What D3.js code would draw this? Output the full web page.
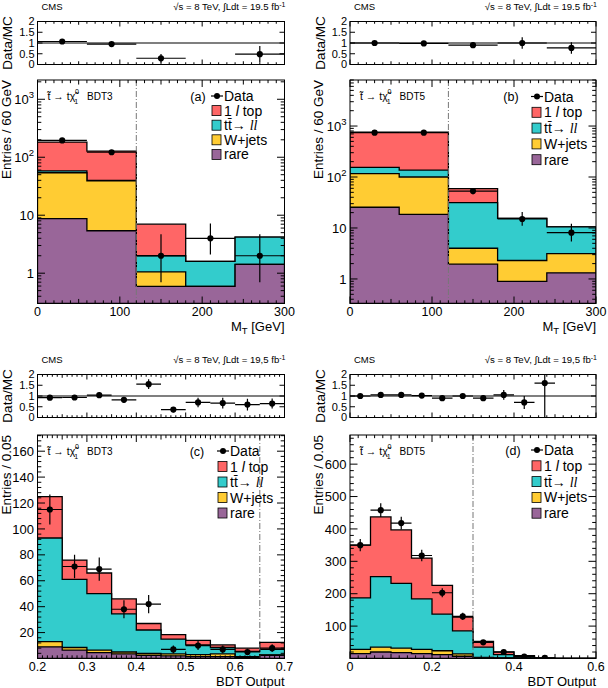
<!DOCTYPE html>
<html><head><meta charset="utf-8">
<script src="https://cdn.jsdelivr.net/npm/d3@7"></script>
<style>body{margin:0;background:#fff} text{font-family:"Liberation Sans",Arial,Helvetica,sans-serif;fill:#000}</style>
</head><body><svg id="chart" width="608" height="688"></svg>
<script>
// ---------------- DATA ----------------
const processNames = ["1 l top", "tt→ll", "W+jets", "rare"];
const ratioTicks = [0, 0.5, 1, 1.5, 2];

// Panel (a): MT, BDT3
const aEdges  = [0, 60, 120, 180, 240, 300];
const aRare   = [8.7, 5.4, 0.59, 0.59, 1.42];
const aWjets  = [45.3, 33.6, 0.46, 0, 0];
const aTtll   = [4, 1, 0.95, 1.01, 2.78];
const aTop1l  = [125, 88, 5, 0, 0];
const aData   = [195, 122, 2, 4, 2];
const aDataLo = [14, 11, 1.3, 1.9, 1.3];
const aDataHi = [14, 11, 2.7, 3.2, 2.7];
const aRatio    = [1.07, 0.95, 0.29, null, 0.48];
const aRatioErr = [0.06, 0.09, 0.2, null, 0.38];
const aXTicks = [0, 100, 200, 300];
const aYTicks = [1, 10, 100, 1000];

// Panel (b): MT, BDT5
const bEdges  = [0, 60, 120, 180, 240, 300];
const bRare   = [25.5, 18.5, 1.95, 0.9, 1.32];
const bWjets  = [91.5, 81.5, 2.05, 1.4, 1.83];
const bTtll   = [38, 37, 27.5, 13.2, 7.35];
const bTop1l  = [605, 623, 27.5, 0, 0];
const bData   = [740, 740, 53, 15, 8.1];
const bDataLo = [27, 27, 7, 4, 2.7];
const bDataHi = [27, 27, 8, 5.5, 4];
const bRatio    = [1.0, 0.98, 0.9, 1.0, 0.77];
const bRatioErr = [0.04, 0.04, 0.12, 0.27, 0.27];
const bXTicks = [0, 100, 200, 300];
const bYTicks = [1, 10, 100, 1000];

// Panel (c): BDT output, BDT3
const cEdges  = [0.2, 0.25, 0.3, 0.35, 0.4, 0.45, 0.5, 0.55, 0.6, 0.65, 0.7];
const cRare   = [9, 6.5, 4.5, 3.5, 2.5, 2, 1.5, 1.5, 1, 2.5];
const cWjets  = [4, 2, 2, 1.5, 1.5, 1.5, 1.5, 2, 0.5, 0.3];
const cTtll   = [80, 52.5, 43.5, 29.5, 18, 11.5, 7.5, 5, 4, 4.2];
const cTop1l  = [32, 15, 16, 11.5, 5, 3.5, 3.5, 2, 2.5, 5.5];
const cData   = [115, 71, 69, 38, 42, 7, 10, 7, 5, 8];
const cDataErr= [11.5, 9, 9, 7, 7, 3, 3.5, 3, 2.5, 3];
const cRatio    = [0.92, 0.93, 1.04, 0.82, 1.55, 0.37, 0.7, 0.67, 0.6, 0.65];
const cRatioErr = [0.1, 0.11, 0.13, 0.13, 0.23, 0.12, 0.22, 0.25, 0.27, 0.23];
const cXTicks = [0.2, 0.3, 0.4, 0.5, 0.6, 0.7];
const cYTicks = [20, 40, 60, 80, 100, 120, 140, 160];

// Panel (d): BDT output, BDT5
const dEdges  = [0, 0.05, 0.1, 0.15, 0.2, 0.25, 0.3, 0.35, 0.4, 0.45, 0.5, 0.55, 0.6];
const dRare   = [15, 20, 18, 15, 12, 7, 2, 1, 0.5, 0.2, 0, 0];
const dWjets  = [13, 15, 14, 13, 12, 7, 1.5, 0.5, 0.2, 0.1, 0, 0];
const dTtll   = [159, 218, 200, 156, 113, 71, 31.5, 10.5, 4.3, 0.5, 0, 0];
const dTop1l  = [163, 184, 165, 126, 89, 43, 18, 8, 3.5, 0.45, 0, 0];
const dData   = [350, 458, 418, 318, 203, 130, 50, 20, 6, 2, null, null];
const dDataErr= [19, 21, 20, 18, 14, 11.5, 7, 4.5, 2.5, 1.5, null, null];
const dRatio    = [1.0, 1.05, 1.05, 1.02, 0.9, 1.0, 0.9, 1.05, 0.7, 1.6, null, null];
const dRatioErr = [0.06, 0.05, 0.05, 0.06, 0.07, 0.09, 0.13, 0.23, 0.3, 1.8, null, null];
const dXTicks = [0, 0.2, 0.4, 0.6];
const dYTicks = [100, 200, 300, 400, 500, 600];

// ---------------- STYLE ----------------
const fillColors = ["#ff6666", "#33cccc", "#ffcc33", "#996699"]; // 1l top, ttll, W+jets, rare
const svg = d3.select("#chart");

function rng(a, b, s) { const out = []; for (let v = a; v <= b + 1e-9; v += s) out.push(+v.toFixed(6)); return out; }

function drawPanel(p) {
  const g = svg.append("g");
  const L = p.L, R = p.R;
  const x = d3.scaleLinear().domain([p.edges[0], p.edges[p.edges.length - 1]]).range([L, R]);
  const y = p.log
    ? d3.scaleLog().domain(p.yDomain).range([p.mainBot, p.mainTop]).clamp(true)
    : d3.scaleLinear().domain(p.yDomain).range([p.mainBot, p.mainTop]).clamp(true);
  const yr = d3.scaleLinear().domain([0, 2]).range([p.ratioBot, p.ratioTop]);
  const ymin = p.yDomain[0];
  const base = p.mainBot;
  const n = p.edges.length - 1;

  const clipId = "clip" + p.id, clipRId = "clipr" + p.id;
  g.append("clipPath").attr("id", clipId).append("rect")
    .attr("x", L).attr("y", p.mainTop).attr("width", R - L).attr("height", p.mainBot - p.mainTop);
  g.append("clipPath").attr("id", clipRId).append("rect")
    .attr("x", L).attr("y", p.ratioTop).attr("width", R - L).attr("height", p.ratioBot - p.ratioTop);

  const comps = [p.rare, p.wjets, p.ttll, p.top1l];
  const cum = [];
  let run = new Array(n).fill(0);
  comps.forEach(c => { run = run.map((v, i) => v + c[i]); cum.push(run.slice()); });
  const order = [3, 2, 1, 0];
  const yv = v => (p.log ? y(Math.max(v, ymin)) : y(v));
  const main = g.append("g").attr("clip-path", `url(#${clipId})`);
  order.forEach((ci, k) => {
    const vals = cum[ci];
    let d = `M${x(p.edges[0])},${base}`;
    for (let i = 0; i < n; i++) {
      d += `L${x(p.edges[i])},${yv(vals[i])}L${x(p.edges[i + 1])},${yv(vals[i])}`;
    }
    d += `L${x(p.edges[n])},${base}Z`;
    main.append("path").attr("d", d).attr("fill", fillColors[k]).attr("stroke", "#000")
      .attr("stroke-width", 1.3).attr("stroke-linejoin", "miter");
  });

  main.append("line").attr("x1", x(p.cut)).attr("x2", x(p.cut)).attr("y1", p.mainTop).attr("y2", p.mainBot)
    .attr("stroke", "#777").attr("stroke-width", 1).attr("stroke-dasharray", "6,2,1,2");

  for (let i = 0; i < n; i++) {
    const v = p.data[i];
    if (v == null) continue;
    const cx = x((p.edges[i] + p.edges[i + 1]) / 2);
    const lo = p.dataLo[i], hi = p.dataHi[i];
    main.append("line").attr("x1", x(p.edges[i])).attr("x2", x(p.edges[i + 1]))
      .attr("y1", yv(v)).attr("y2", yv(v)).attr("stroke", "#000").attr("stroke-width", 1.2);
    main.append("line").attr("x1", cx).attr("x2", cx)
      .attr("y1", yv(v - lo)).attr("y2", yv(v + hi)).attr("stroke", "#000").attr("stroke-width", 1.2);
    main.append("circle").attr("cx", cx).attr("cy", yv(v)).attr("r", 3.1).attr("fill", "#000");
  }

  g.append("rect").attr("x", L).attr("y", p.mainTop).attr("width", R - L).attr("height", p.mainBot - p.mainTop)
    .attr("fill", "none").attr("stroke", "#000").attr("stroke-width", 1);
  g.append("rect").attr("x", L).attr("y", p.ratioTop).attr("width", R - L).attr("height", p.ratioBot - p.ratioTop)
    .attr("fill", "none").attr("stroke", "#000").attr("stroke-width", 1);

  const tk = (x1, y1, x2, y2) => g.append("line").attr("x1", x1).attr("y1", y1).attr("x2", x2).attr("y2", y2)
    .attr("stroke", "#000").attr("stroke-width", 1);
  const xmajor = p.xTicks;
  const xminor = rng(p.edges[0], p.edges[n], p.xMinor).filter(v => !xmajor.some(m => Math.abs(m - v) < 1e-6));
  const isMed = v => p.xMed && Math.abs(v / p.xMed - Math.round(v / p.xMed)) < 1e-6;
  [[p.mainTop, p.mainBot, 7], [p.ratioTop, p.ratioBot, 5]].forEach(([t, b, len]) => {
    xmajor.forEach(v => { tk(x(v), b, x(v), b - len); tk(x(v), t, x(v), t + len); });
    xminor.forEach(v => { const l = isMed(v) ? len * 0.65 : len * 0.45; tk(x(v), b, x(v), b - l); tk(x(v), t, x(v), t + l); });
  });
  xmajor.forEach(v => {
    g.append("text").attr("x", x(v)).attr("y", p.mainBot + 12.5).attr("text-anchor", "middle")
      .attr("font-size", 12.5).text(p.xFmt(v));
  });
  let ymajor, yminor;
  if (p.log) {
    ymajor = p.yTicks;
    yminor = [];
    for (let e = -1; e <= 4; e++) for (let m = 2; m <= 9; m++) {
      const v = m * Math.pow(10, e);
      if (v >= p.yDomain[0] && v <= p.yDomain[1]) yminor.push(v);
    }
  } else {
    ymajor = [0].concat(p.yTicks).filter(v => v <= p.yDomain[1]);
    yminor = rng(0, p.yDomain[1], p.yMinor).filter(v => !ymajor.some(m => Math.abs(m - v) < 1e-6));
  }
  ymajor.forEach(v => { tk(L, y(v), L + 7.5, y(v)); tk(R, y(v), R - 7.5, y(v)); });
  yminor.forEach(v => { tk(L, y(v), L + 3.8, y(v)); tk(R, y(v), R - 3.8, y(v)); });
  p.yTicks.forEach(v => {
    const t = g.append("text").attr("x", L - 3.5).attr("y", y(v) + 4.6).attr("text-anchor", "end").attr("font-size", 13);
    if (p.log && v >= 100) {
      t.append("tspan").text("10");
      t.append("tspan").attr("dy", -5.5).attr("font-size", 9.5).text(String(Math.round(Math.log10(v))));
    } else t.text(String(v));
  });
  ratioTicks.forEach(v => {
    tk(L, yr(v), L + 5, yr(v)); tk(R, yr(v), R - 5, yr(v));
    g.append("text").attr("x", L - 3).attr("y", yr(v) + 3.8).attr("text-anchor", "end").attr("font-size", 11)
      .text(String(v));
  });
  g.append("line").attr("x1", L).attr("x2", R).attr("y1", yr(1)).attr("y2", yr(1)).attr("stroke", "#000").attr("stroke-width", 1.2);
  const rg = g.append("g").attr("clip-path", `url(#${clipRId})`);
  for (let i = 0; i < n; i++) {
    const v = p.ratio[i];
    if (v == null) continue;
    const cx = x((p.edges[i] + p.edges[i + 1]) / 2);
    rg.append("line").attr("x1", x(p.edges[i])).attr("x2", x(p.edges[i + 1])).attr("y1", yr(v)).attr("y2", yr(v))
      .attr("stroke", "#000").attr("stroke-width", 1.2);
    rg.append("line").attr("x1", cx).attr("x2", cx).attr("y1", yr(v - p.ratioErr[i])).attr("y2", yr(v + p.ratioErr[i]))
      .attr("stroke", "#000").attr("stroke-width", 1.2);
    rg.append("circle").attr("cx", cx).attr("cy", yr(v)).attr("r", 3.1).attr("fill", "#000");
  }

  g.append("text").attr("x", L + 4).attr("y", p.ratioTop - 11.5).attr("font-size", 9.5).text("CMS");
  const h = g.append("text").attr("x", R + 1).attr("y", p.ratioTop - 11.5).attr("font-size", 9.6).attr("text-anchor", "end");
  h.append("tspan").text("\u221As = 8 TeV,  \u222BLdt = " + p.lumi + " fb");
  h.append("tspan").attr("dy", -3.5).attr("font-size", 7).text("-1");

  g.append("text").attr("transform", `translate(${L - 27},${p.mainTop}) rotate(-90)`).attr("text-anchor", "end")
    .attr("font-size", 13.5).text(p.yTitle);
  g.append("text").attr("transform", `translate(${L - 25.5},${(p.ratioTop + p.ratioBot) / 2}) rotate(-90)`)
    .attr("text-anchor", "middle").attr("font-size", 13.5).text("Data/MC");
  const xt = g.append("text").attr("x", R).attr("y", p.mainBot + 27).attr("text-anchor", "end").attr("font-size", 13);
  if (p.xTitle === "MT") {
    xt.append("tspan").text("M");
    xt.append("tspan").attr("dy", 3).attr("font-size", 9.5).text("T");
    xt.append("tspan").attr("dy", -3).text(" [GeV]");
  } else xt.text(p.xTitle);

  const sl = g.append("text").attr("x", L + 10).attr("y", p.mainTop + 20).attr("font-size", 10.5);
  sl.append("tspan").text("t\u0303 \u2192 t\u03C7\u0303");
  sl.append("tspan").attr("dy", 3.5).attr("font-size", 7).attr("dx", -1).text("1");
  sl.append("tspan").attr("dy", -9.5).attr("dx", -3).attr("font-size", 7).text("0");
  sl.append("tspan").attr("dy", 6).attr("dx", 8).attr("font-size", 10).text(p.bdt);

  const lg = p.leg;
  g.append("text").attr("x", lg.tagX).attr("y", lg.y0 + 4.5).attr("font-size", 12.5).attr("text-anchor", "middle").text(p.tag);
  g.append("line").attr("x1", lg.boxX - 1).attr("x2", lg.boxX + 11).attr("y1", lg.y0).attr("y2", lg.y0).attr("stroke", "#000").attr("stroke-width", 1.2);
  g.append("circle").attr("cx", lg.boxX + 5).attr("cy", lg.y0).attr("r", 3).attr("fill", "#000");
  g.append("text").attr("x", lg.boxX + 12).attr("y", lg.y0 + 5).attr("font-size", 14).text("Data");
  processNames.forEach((name, k) => {
    const yy = lg.y0 + lg.dy * (k + 1);
    g.append("rect").attr("x", lg.boxX).attr("y", yy - 5).attr("width", 9).attr("height", 10)
      .attr("fill", fillColors[k]).attr("stroke", "#000").attr("stroke-width", 0.8);
    const t = g.append("text").attr("x", lg.boxX + 12).attr("y", yy + 5).attr("font-size", 14);
    if (k === 0) {
      t.append("tspan").text("1 ");
      t.append("tspan").attr("font-style", "italic").text("l");
      t.append("tspan").text(" top");
    } else if (k === 1) {
      t.append("tspan").text("tt\u0304");
      t.append("tspan").text("\u2192 ");
      t.append("tspan").attr("font-style", "italic").attr("font-family", "\"Liberation Serif\",serif").text("ll");
    } else t.text(name);
  });
}

const fmtInt = v => String(v);
const fmt1 = v => (v === 0 ? "0" : v.toFixed(1));

drawPanel({ id: "a", L: 37.5, R: 284.5, mainTop: 80, mainBot: 303.5, ratioTop: 21.5, ratioBot: 64.5,
  edges: aEdges, rare: aRare, wjets: aWjets, ttll: aTtll, top1l: aTop1l,
  data: aData, dataLo: aDataLo, dataHi: aDataHi, ratio: aRatio, ratioErr: aRatioErr,
  log: true, yDomain: [0.3, 2150], yTicks: aYTicks, xTicks: aXTicks, xMinor: 10, xMed: 50, xFmt: fmtInt,
  cut: 120, lumi: "19.5", yTitle: "Entries / 60 GeV", xTitle: "MT", bdt: "BDT3", tag: "(a)",
  leg: { tagX: 198, y0: 96, dy: 14.6, boxX: 212 } });

drawPanel({ id: "b", L: 350, R: 596, mainTop: 80, mainBot: 303.5, ratioTop: 21.5, ratioBot: 64.5,
  edges: bEdges, rare: bRare, wjets: bWjets, ttll: bTtll, top1l: bTop1l,
  data: bData, dataLo: bDataLo, dataHi: bDataHi, ratio: bRatio, ratioErr: bRatioErr,
  log: true, yDomain: [0.33, 8000], yTicks: bYTicks, xTicks: bXTicks, xMinor: 10, xMed: 50, xFmt: fmtInt,
  cut: 120, lumi: "19.5", yTitle: "Entries / 60 GeV", xTitle: "MT", bdt: "BDT5", tag: "(b)",
  leg: { tagX: 511, y0: 96.5, dy: 15.8, boxX: 532 } });

drawPanel({ id: "c", L: 37.5, R: 284.5, mainTop: 435, mainBot: 658.5, ratioTop: 374.5, ratioBot: 417.5,
  edges: cEdges, rare: cRare, wjets: cWjets, ttll: cTtll, top1l: cTop1l,
  data: cData, dataLo: cDataErr, dataHi: cDataErr, ratio: cRatio, ratioErr: cRatioErr,
  log: false, yDomain: [0, 172.5], yTicks: cYTicks, yMinor: 4, xTicks: cXTicks, xMinor: 0.01, xMed: 0.05, xFmt: fmt1,
  cut: 0.65, lumi: "19,5", yTitle: "Entries / 0.05", xTitle: "BDT Output", bdt: "BDT3", tag: "(c)",
  leg: { tagX: 197, y0: 451, dy: 15.5, boxX: 218 } });

drawPanel({ id: "d", L: 350, R: 596, mainTop: 435, mainBot: 658.5, ratioTop: 374.5, ratioBot: 417.5,
  edges: dEdges, rare: dRare, wjets: dWjets, ttll: dTtll, top1l: dTop1l,
  data: dData, dataLo: dDataErr, dataHi: dDataErr, ratio: dRatio, ratioErr: dRatioErr,
  log: false, yDomain: [0, 690], yTicks: dYTicks, yMinor: 20, xTicks: dXTicks, xMinor: 0.02, xMed: 0.1, xFmt: fmt1,
  cut: 0.3, lumi: "19,5", yTitle: "Entries / 0.05", xTitle: "BDT Output", bdt: "BDT5", tag: "(d)",
  leg: { tagX: 513, y0: 450, dy: 15.8, boxX: 532 } });
</script></body></html>
